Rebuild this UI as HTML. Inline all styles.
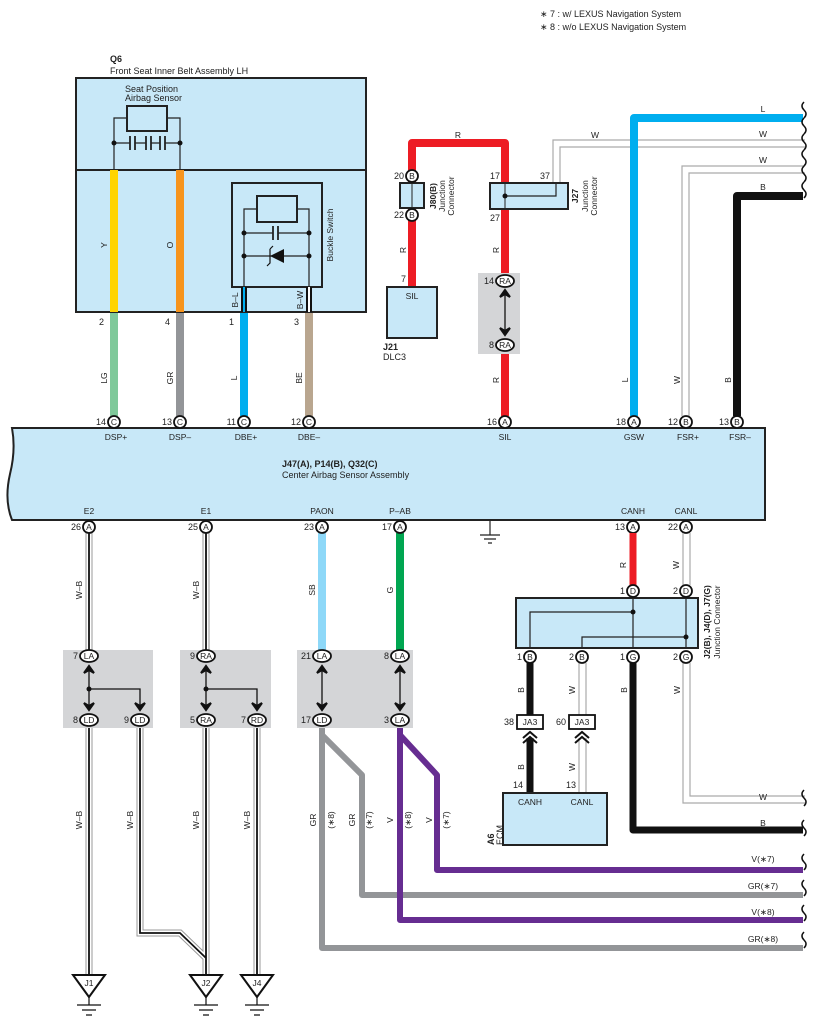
<!DOCTYPE html>
<html><head><meta charset="utf-8"><style>
html,body{margin:0;padding:0;background:#fff}
svg{display:block}
text{font-family:"Liberation Sans",sans-serif;font-size:9px;fill:#222}
.b{font-weight:bold}
.p{font-size:8.5px;text-anchor:middle}
</style></head><body>
<svg width="815" height="1028" viewBox="0 0 815 1028" xmlns="http://www.w3.org/2000/svg">
<defs>
<g id="wv"><path d="M0,-8 q-4,4 0,8 q4,4 0,8" fill="none" stroke="#111" stroke-width="1.5"/></g>
</defs>
<!-- notes -->
<text x="540" y="17">∗ 7 : w/ LEXUS Navigation System</text>
<text x="540" y="30">∗ 8 : w/o LEXUS Navigation System</text>

<!-- Q6 -->
<text x="110" y="62" class="b">Q6</text>
<text x="110" y="74">Front Seat Inner Belt Assembly LH</text>
<rect x="76" y="78" width="290" height="234" fill="#c8e8f8" stroke="#222" stroke-width="2"/>
<line x1="76" y1="170" x2="366" y2="170" stroke="#222" stroke-width="2"/>
<text x="125" y="92">Seat Position</text>
<text x="125" y="101">Airbag Sensor</text>
<rect x="127" y="106" width="40" height="25" fill="none" stroke="#222" stroke-width="2"/>
<path d="M127,118H114V170M167,118H180V170M114,143H130M135,143H146M151,143H160M165,143H180" stroke="#222" fill="none" stroke-width="1.2"/>
<path d="M130,136V150M135,136V150M146,136V150M151,136V150M160,136V150M165,136V150" stroke="#222" stroke-width="1.8"/>
<circle cx="114" cy="143" r="2.5" fill="#111"/><circle cx="180" cy="143" r="2.5" fill="#111"/>
<line x1="114" y1="170" x2="114" y2="312" stroke="#ffd400" stroke-width="8"/>
<line x1="180" y1="170" x2="180" y2="312" stroke="#f7941d" stroke-width="8"/>
<text transform="translate(107,245) rotate(-90)" class="p">Y</text>
<text transform="translate(173,245) rotate(-90)" class="p">O</text>
<rect x="232" y="183" width="90" height="104" fill="none" stroke="#222" stroke-width="2"/>
<text transform="translate(333,235) rotate(-90)" class="p">Buckle Switch</text>
<rect x="257" y="196" width="40" height="26" fill="none" stroke="#222" stroke-width="2"/>
<path d="M257,209H244V312M297,209H309V312M244,233H273M278,233H309M244,256H309" stroke="#222" fill="none" stroke-width="1.2"/>
<path d="M273,226V240M278,226V240" stroke="#222" stroke-width="1.8"/>
<path d="M270,256L284,249V263Z" fill="#111"/><path d="M270,249V263l-3,3M270,249l3,-3" stroke="#111" stroke-width="1.2" fill="none"/>
<circle cx="244" cy="233" r="2.5" fill="#111"/><circle cx="309" cy="233" r="2.5" fill="#111"/>
<circle cx="244" cy="256" r="2.5" fill="#111"/><circle cx="309" cy="256" r="2.5" fill="#111"/>
<line x1="244" y1="287" x2="244" y2="312" stroke="#111" stroke-width="6"/>
<line x1="244" y1="287" x2="244" y2="312" stroke="#00aeef" stroke-width="2"/>
<line x1="309" y1="287" x2="309" y2="312" stroke="#111" stroke-width="6"/>
<line x1="309" y1="287" x2="309" y2="312" stroke="#fff" stroke-width="2"/>
<text transform="translate(238,300) rotate(-90)" class="p">B–L</text>
<text transform="translate(303,300) rotate(-90)" class="p">B–W</text>

<!-- wires Q6 to main -->
<line x1="114" y1="313" x2="114" y2="416" stroke="#7fc99a" stroke-width="8"/>
<line x1="180" y1="313" x2="180" y2="416" stroke="#939598" stroke-width="8"/>
<line x1="244" y1="313" x2="244" y2="416" stroke="#00aeef" stroke-width="8"/>
<line x1="309" y1="313" x2="309" y2="416" stroke="#b9a68f" stroke-width="8"/>
<text x="104" y="325" text-anchor="end">2</text><text x="170" y="325" text-anchor="end">4</text>
<text x="234" y="325" text-anchor="end">1</text><text x="299" y="325" text-anchor="end">3</text>
<text transform="translate(107,378) rotate(-90)" class="p">LG</text>
<text transform="translate(173,378) rotate(-90)" class="p">GR</text>
<text transform="translate(237,378) rotate(-90)" class="p">L</text>
<text transform="translate(302,378) rotate(-90)" class="p">BE</text>

<!-- red SIL -->
<path d="M412,287V143H505V416" fill="none" stroke="#ed1c24" stroke-width="8" stroke-linejoin="round"/>
<text x="458" y="138" class="p">R</text>
<text transform="translate(406,250) rotate(-90)" class="p">R</text>
<text transform="translate(499,250) rotate(-90)" class="p">R</text>
<text transform="translate(499,380) rotate(-90)" class="p">R</text>
<rect x="400" y="183" width="24" height="25" fill="#c8e8f8" stroke="#222" stroke-width="2"/>
<line x1="412" y1="183" x2="412" y2="208" stroke="#222"/>
<circle cx="412" cy="176" r="6" fill="#fff" stroke="#111" stroke-width="1.8"/><text x="412" y="179" class="p">B</text>
<circle cx="412" cy="215" r="6" fill="#fff" stroke="#111" stroke-width="1.8"/><text x="412" y="218" class="p">B</text>
<text x="404" y="179" text-anchor="end">20</text><text x="404" y="218" text-anchor="end">22</text>
<text transform="translate(436,196) rotate(-90)" class="p b">J80(B)</text>
<text transform="translate(445,196) rotate(-90)" class="p">Junction</text>
<text transform="translate(454,196) rotate(-90)" class="p">Connector</text>
<!-- W from J27 -->
<path d="M553,183V140H805M560,183V147H805" fill="none" stroke="#aaa" stroke-width="1.2"/>
<rect x="490" y="183" width="78" height="26" fill="#c8e8f8" stroke="#222" stroke-width="2"/>
<line x1="505" y1="183" x2="505" y2="209" stroke="#222"/>
<path d="M505,196H556V183" fill="none" stroke="#222" stroke-width="1.2"/>
<circle cx="505" cy="196" r="2.5" fill="#111"/>
<text x="500" y="179" text-anchor="end">17</text><text x="550" y="179" text-anchor="end">37</text>
<text x="500" y="221" text-anchor="end">27</text>
<text transform="translate(578,196) rotate(-90)" class="p b">J27</text>
<text transform="translate(588,196) rotate(-90)" class="p">Junction</text>
<text transform="translate(597,196) rotate(-90)" class="p">Connector</text>
<text x="595" y="138" class="p">W</text>
<!-- J21 -->
<rect x="387" y="287" width="50" height="51" fill="#c8e8f8" stroke="#222" stroke-width="2"/>
<text x="412" y="299" class="p">SIL</text><text x="406" y="282" text-anchor="end">7</text>
<text x="383" y="350" class="b">J21</text><text x="383" y="360">DLC3</text>
<!-- RA box -->
<rect x="478" y="273" width="42" height="81" fill="#d4d5d7"/>
<line x1="505" y1="281" x2="505" y2="345" stroke="#ed1c24" stroke-width="0"/>
<line x1="505" y1="292" x2="505" y2="334" stroke="#111" stroke-width="1.3"/>
<path d="M500,297L505,290L510,297L505,294Z M500,328L505,335L510,328L505,331Z" fill="#111" stroke="#111" stroke-width="2"/>
<ellipse cx="505" cy="281" rx="9" ry="6" fill="#fff" stroke="#111" stroke-width="1.8"/><text x="505" y="284" class="p">RA</text>
<ellipse cx="505" cy="345" rx="9" ry="6" fill="#fff" stroke="#111" stroke-width="1.8"/><text x="505" y="348" class="p">RA</text>
<text x="494" y="284" text-anchor="end">14</text><text x="494" y="348" text-anchor="end">8</text>

<!-- right wires top -->
<path d="M634,416V118H803" fill="none" stroke="#00aeef" stroke-width="8" stroke-linejoin="round"/>
<path d="M682,416V166H805M689,416V173H805" fill="none" stroke="#aaa" stroke-width="1.2"/>
<path d="M737,416V196H803" fill="none" stroke="#111" stroke-width="8" stroke-linejoin="round"/>
<text x="763" y="112" class="p">L</text><text x="763" y="137" class="p">W</text>
<text x="763" y="163" class="p">W</text><text x="763" y="190" class="p">B</text>
<text transform="translate(628,380) rotate(-90)" class="p">L</text>
<text transform="translate(680,380) rotate(-90)" class="p">W</text>
<text transform="translate(731,380) rotate(-90)" class="p">B</text>
<use href="#wv" x="804" y="110"/><use href="#wv" x="804" y="126"/><use href="#wv" x="804" y="142"/>
<use href="#wv" x="804" y="158"/><use href="#wv" x="804" y="174"/><use href="#wv" x="804" y="190"/>

<!-- main box -->
<path d="M12,428H765V520H12Q4,500 10,474Q16,450 12,428Z" fill="#c8e8f8" stroke="#222" stroke-width="2"/>
<g>
<circle cx="114" cy="422" r="6" fill="#fff" stroke="#111" stroke-width="1.8"/><text x="114" y="425" class="p">C</text><text x="106" y="425" text-anchor="end">14</text>
<circle cx="180" cy="422" r="6" fill="#fff" stroke="#111" stroke-width="1.8"/><text x="180" y="425" class="p">C</text><text x="172" y="425" text-anchor="end">13</text>
<circle cx="244" cy="422" r="6" fill="#fff" stroke="#111" stroke-width="1.8"/><text x="244" y="425" class="p">C</text><text x="236" y="425" text-anchor="end">11</text>
<circle cx="309" cy="422" r="6" fill="#fff" stroke="#111" stroke-width="1.8"/><text x="309" y="425" class="p">C</text><text x="301" y="425" text-anchor="end">12</text>
<circle cx="505" cy="422" r="6" fill="#fff" stroke="#111" stroke-width="1.8"/><text x="505" y="425" class="p">A</text><text x="497" y="425" text-anchor="end">16</text>
<circle cx="634" cy="422" r="6" fill="#fff" stroke="#111" stroke-width="1.8"/><text x="634" y="425" class="p">A</text><text x="626" y="425" text-anchor="end">18</text>
<circle cx="686" cy="422" r="6" fill="#fff" stroke="#111" stroke-width="1.8"/><text x="686" y="425" class="p">B</text><text x="678" y="425" text-anchor="end">12</text>
<circle cx="737" cy="422" r="6" fill="#fff" stroke="#111" stroke-width="1.8"/><text x="737" y="425" class="p">B</text><text x="729" y="425" text-anchor="end">13</text>
</g>
<text x="116" y="440" class="p">DSP+</text><text x="180" y="440" class="p">DSP–</text>
<text x="246" y="440" class="p">DBE+</text><text x="309" y="440" class="p">DBE–</text>
<text x="505" y="440" class="p">SIL</text><text x="634" y="440" class="p">GSW</text>
<text x="688" y="440" class="p">FSR+</text><text x="740" y="440" class="p">FSR–</text>
<text x="282" y="467" class="b">J47(A), P14(B), Q32(C)</text>
<text x="282" y="478">Center Airbag Sensor Assembly</text>
<text x="89" y="514" class="p">E2</text><text x="206" y="514" class="p">E1</text>
<text x="322" y="514" class="p">PAON</text><text x="400" y="514" class="p">P–AB</text>
<text x="633" y="514" class="p">CANH</text><text x="686" y="514" class="p">CANL</text>
<path d="M490,520V535M480,535H500M484,539H496M488,543H492" stroke="#222" stroke-width="1.2"/>

<!-- W-B wires -->
<g fill="none" stroke-linejoin="miter">
<path d="M89,533V975M206,533V975M140,720V933H180L206,958M257,720V975" stroke="#999" stroke-width="7"/>
<path d="M89,533V975M206,533V975M140,720V933H180L206,958M257,720V975" stroke="#fff" stroke-width="5"/>
<path d="M89,533V975M206,533V975M140,720V933H180L206,958M257,720V975" stroke="#111" stroke-width="1.8"/>
</g>
<text transform="translate(82,590) rotate(-90)" class="p">W–B</text>
<text transform="translate(199,590) rotate(-90)" class="p">W–B</text>
<text transform="translate(82,820) rotate(-90)" class="p">W–B</text>
<text transform="translate(133,820) rotate(-90)" class="p">W–B</text>
<text transform="translate(199,820) rotate(-90)" class="p">W–B</text>
<text transform="translate(250,820) rotate(-90)" class="p">W–B</text>
<!-- PAON, PAB -->
<line x1="322" y1="533" x2="322" y2="650" stroke="#8ed8f8" stroke-width="8"/>
<line x1="400" y1="533" x2="400" y2="650" stroke="#00a651" stroke-width="8"/>
<text transform="translate(315,590) rotate(-90)" class="p">SB</text>
<text transform="translate(393,590) rotate(-90)" class="p">G</text>
<!-- GR / V -->
<g fill="none" stroke-width="6" stroke-linejoin="round">
<path d="M322,727V948H803" stroke="#939598"/>
<path d="M322,735L362,775V895H803" stroke="#939598"/>
<path d="M400,727V920H803" stroke="#662d91"/>
<path d="M400,735L437,775V870H803" stroke="#662d91"/>
</g>
<text transform="translate(316,820) rotate(-90)" class="p">GR</text>
<text transform="translate(334,820) rotate(-90)" class="p">(∗8)</text>
<text transform="translate(355,820) rotate(-90)" class="p">GR</text>
<text transform="translate(372,820) rotate(-90)" class="p">(∗7)</text>
<text transform="translate(393,820) rotate(-90)" class="p">V</text>
<text transform="translate(411,820) rotate(-90)" class="p">(∗8)</text>
<text transform="translate(432,820) rotate(-90)" class="p">V</text>
<text transform="translate(449,820) rotate(-90)" class="p">(∗7)</text>
<text x="763" y="862" class="p">V(∗7)</text><text x="763" y="889" class="p">GR(∗7)</text>
<text x="763" y="915" class="p">V(∗8)</text><text x="763" y="942" class="p">GR(∗8)</text>
<use href="#wv" x="804" y="862"/><use href="#wv" x="804" y="888"/><use href="#wv" x="804" y="913"/><use href="#wv" x="804" y="940"/>

<!-- bottom pins -->
<g>
<circle cx="89" cy="527" r="6" fill="#fff" stroke="#111" stroke-width="1.8"/><text x="89" y="530" class="p">A</text><text x="81" y="530" text-anchor="end">26</text>
<circle cx="206" cy="527" r="6" fill="#fff" stroke="#111" stroke-width="1.8"/><text x="206" y="530" class="p">A</text><text x="198" y="530" text-anchor="end">25</text>
<circle cx="322" cy="527" r="6" fill="#fff" stroke="#111" stroke-width="1.8"/><text x="322" y="530" class="p">A</text><text x="314" y="530" text-anchor="end">23</text>
<circle cx="400" cy="527" r="6" fill="#fff" stroke="#111" stroke-width="1.8"/><text x="400" y="530" class="p">A</text><text x="392" y="530" text-anchor="end">17</text>
<circle cx="633" cy="527" r="6" fill="#fff" stroke="#111" stroke-width="1.8"/><text x="633" y="530" class="p">A</text><text x="625" y="530" text-anchor="end">13</text>
<circle cx="686" cy="527" r="6" fill="#fff" stroke="#111" stroke-width="1.8"/><text x="686" y="530" class="p">A</text><text x="678" y="530" text-anchor="end">22</text>
</g>

<!-- gray splice boxes -->
<rect x="63" y="650" width="90" height="78" fill="#d4d5d7"/>
<rect x="180" y="650" width="91" height="78" fill="#d4d5d7"/>
<rect x="297" y="650" width="116" height="78" fill="#d4d5d7"/>
<g stroke="#111" stroke-width="1.3" fill="none">
<path d="M89,666V710M89,689H140V710M206,666V710M206,689H257V710M322,666V710M400,666V710"/>
</g>
<g fill="#111" stroke="#111" stroke-width="2">
<path d="M84,673L89,666L94,673L89,670Z M84,703L89,710L94,703L89,706Z M135,703L140,710L145,703L140,706Z"/>
<path d="M201,673L206,666L211,673L206,670Z M201,703L206,710L211,703L206,706Z M252,703L257,710L262,703L257,706Z"/>
<path d="M317,673L322,666L327,673L322,670Z M317,703L322,710L327,703L322,706Z"/>
<path d="M395,673L400,666L405,673L400,670Z M395,703L400,710L405,703L400,706Z"/>
</g>
<circle cx="89" cy="689" r="2.5" fill="#111"/><circle cx="206" cy="689" r="2.5" fill="#111"/>
<g>
<ellipse cx="89" cy="656" rx="9" ry="6" fill="#fff" stroke="#111" stroke-width="1.8"/><text x="89" y="659" class="p">LA</text><text x="78" y="659" text-anchor="end">7</text>
<ellipse cx="89" cy="720" rx="9" ry="6" fill="#fff" stroke="#111" stroke-width="1.8"/><text x="89" y="723" class="p">LD</text><text x="78" y="723" text-anchor="end">8</text>
<ellipse cx="140" cy="720" rx="9" ry="6" fill="#fff" stroke="#111" stroke-width="1.8"/><text x="140" y="723" class="p">LD</text><text x="129" y="723" text-anchor="end">9</text>
<ellipse cx="206" cy="656" rx="9" ry="6" fill="#fff" stroke="#111" stroke-width="1.8"/><text x="206" y="659" class="p">RA</text><text x="195" y="659" text-anchor="end">9</text>
<ellipse cx="206" cy="720" rx="9" ry="6" fill="#fff" stroke="#111" stroke-width="1.8"/><text x="206" y="723" class="p">RA</text><text x="195" y="723" text-anchor="end">5</text>
<ellipse cx="257" cy="720" rx="9" ry="6" fill="#fff" stroke="#111" stroke-width="1.8"/><text x="257" y="723" class="p">RD</text><text x="246" y="723" text-anchor="end">7</text>
<ellipse cx="322" cy="656" rx="9" ry="6" fill="#fff" stroke="#111" stroke-width="1.8"/><text x="322" y="659" class="p">LA</text><text x="311" y="659" text-anchor="end">21</text>
<ellipse cx="322" cy="720" rx="9" ry="6" fill="#fff" stroke="#111" stroke-width="1.8"/><text x="322" y="723" class="p">LD</text><text x="311" y="723" text-anchor="end">17</text>
<ellipse cx="400" cy="656" rx="9" ry="6" fill="#fff" stroke="#111" stroke-width="1.8"/><text x="400" y="659" class="p">LA</text><text x="389" y="659" text-anchor="end">8</text>
<ellipse cx="400" cy="720" rx="9" ry="6" fill="#fff" stroke="#111" stroke-width="1.8"/><text x="400" y="723" class="p">LA</text><text x="389" y="723" text-anchor="end">3</text>
</g>

<!-- grounds -->
<g stroke="#111" stroke-width="2" fill="#fff">
<path d="M73,975H105L89,997Z"/><path d="M190,975H222L206,997Z"/><path d="M241,975H273L257,997Z"/>
</g>
<g stroke="#111" stroke-width="1.2">
<path d="M89,997V1005M77,1005H101M82,1010H96M86,1015H92"/>
<path d="M206,997V1005M194,1005H218M199,1010H213M203,1015H209"/>
<path d="M257,997V1005M245,1005H269M250,1010H264M254,1015H260"/>
</g>
<text x="89" y="986" class="p">J1</text><text x="206" y="986" class="p">J2</text><text x="257" y="986" class="p">J4</text>

<!-- CAN section -->
<line x1="633" y1="533" x2="633" y2="585" stroke="#ed1c24" stroke-width="7"/>
<text transform="translate(626,565) rotate(-90)" class="p">R</text>
<path d="M683,533V585M690,533V585" stroke="#aaa" stroke-width="1.2"/>
<text transform="translate(679,565) rotate(-90)" class="p">W</text>
<rect x="516" y="598" width="182" height="50" fill="#c8e8f8" stroke="#222" stroke-width="2"/>
<g stroke="#222" stroke-width="1.2" fill="none">
<path d="M633,598V648M686,598V648M633,612H530V648M686,637H582V648"/>
</g>
<circle cx="633" cy="612" r="2.5" fill="#111"/><circle cx="686" cy="637" r="2.5" fill="#111"/>
<text transform="translate(710,622) rotate(-90)" class="p b">J2(B), J4(D), J7(G)</text>
<text transform="translate(720,622) rotate(-90)" class="p">Junction Connector</text>
<!-- down wires -->
<line x1="530" y1="663" x2="530" y2="715" stroke="#111" stroke-width="7"/>
<line x1="530" y1="738" x2="530" y2="793" stroke="#111" stroke-width="7"/>
<path d="M579,663V715M586,663V715M579,738V793M586,738V793" stroke="#aaa" stroke-width="1.2"/>
<path d="M633,663V830H803" fill="none" stroke="#111" stroke-width="7" stroke-linejoin="round"/>
<path d="M683,663V803H805M690,663V796H805" fill="none" stroke="#aaa" stroke-width="1.2"/>
<text x="763" y="800" class="p">W</text><text x="763" y="826" class="p">B</text>
<use href="#wv" x="804" y="798"/><use href="#wv" x="804" y="828"/>
<text transform="translate(524,690) rotate(-90)" class="p">B</text>
<text transform="translate(575,690) rotate(-90)" class="p">W</text>
<text transform="translate(627,690) rotate(-90)" class="p">B</text>
<text transform="translate(680,690) rotate(-90)" class="p">W</text>
<text transform="translate(524,767) rotate(-90)" class="p">B</text>
<text transform="translate(575,767) rotate(-90)" class="p">W</text>
<g>
<circle cx="633" cy="591" r="6" fill="#fff" stroke="#111" stroke-width="1.8"/><text x="633" y="594" class="p">D</text><text x="625" y="594" text-anchor="end">1</text>
<circle cx="686" cy="591" r="6" fill="#fff" stroke="#111" stroke-width="1.8"/><text x="686" y="594" class="p">D</text><text x="678" y="594" text-anchor="end">2</text>
<circle cx="530" cy="657" r="6" fill="#fff" stroke="#111" stroke-width="1.8"/><text x="530" y="660" class="p">B</text><text x="522" y="660" text-anchor="end">1</text>
<circle cx="582" cy="657" r="6" fill="#fff" stroke="#111" stroke-width="1.8"/><text x="582" y="660" class="p">B</text><text x="574" y="660" text-anchor="end">2</text>
<circle cx="633" cy="657" r="6" fill="#fff" stroke="#111" stroke-width="1.8"/><text x="633" y="660" class="p">G</text><text x="625" y="660" text-anchor="end">1</text>
<circle cx="686" cy="657" r="6" fill="#fff" stroke="#111" stroke-width="1.8"/><text x="686" y="660" class="p">G</text><text x="678" y="660" text-anchor="end">2</text>
</g>
<rect x="517" y="715" width="26" height="14" fill="#fff" stroke="#111" stroke-width="1.8"/><text x="530" y="725" class="p">JA3</text>
<rect x="569" y="715" width="26" height="14" fill="#fff" stroke="#111" stroke-width="1.8"/><text x="582" y="725" class="p">JA3</text>
<text x="514" y="725" text-anchor="end">38</text><text x="566" y="725" text-anchor="end">60</text>
<path d="M523,738L530,732L537,738M523,743L530,737L537,743M575,738L582,732L589,738M575,743L582,737L589,743" fill="none" stroke="#111" stroke-width="2"/>
<rect x="503" y="793" width="104" height="52" fill="#c8e8f8" stroke="#222" stroke-width="2"/>
<text x="530" y="805" class="p">CANH</text><text x="582" y="805" class="p">CANL</text>
<text x="523" y="788" text-anchor="end">14</text><text x="576" y="788" text-anchor="end">13</text>
<text transform="translate(494,845) rotate(-90)" class="b">A6</text>
<text transform="translate(503,845) rotate(-90)">ECM</text>
</svg>
</body></html>
